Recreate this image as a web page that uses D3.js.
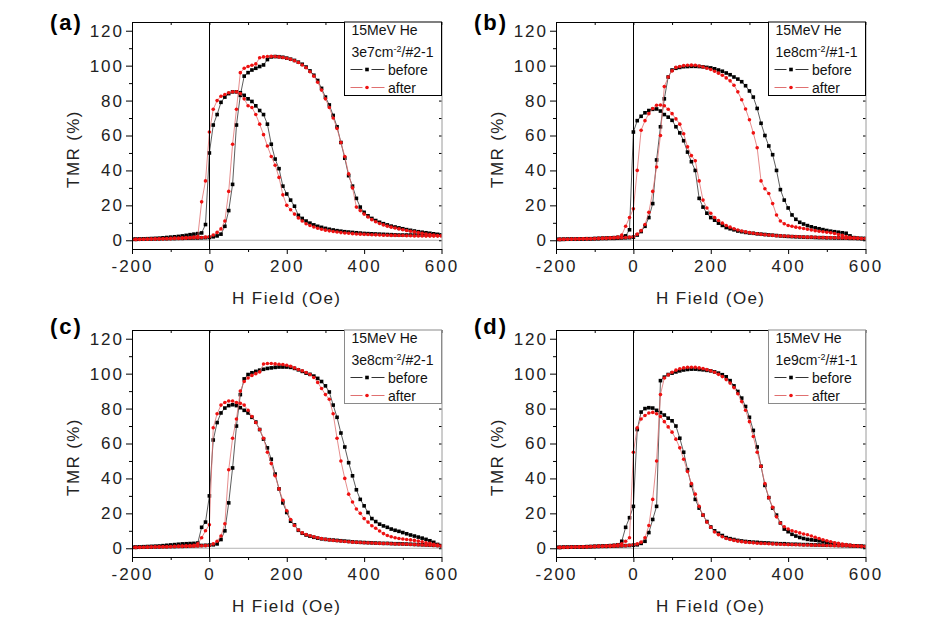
<!DOCTYPE html>
<html><head><meta charset="utf-8">
<script src="https://cdn.jsdelivr.net/npm/d3@7"></script>
<style>
html,body{margin:0;padding:0;background:#fff;}
svg{display:block;}
text{font-family:"Liberation Sans",Arial,sans-serif;}
</style></head><body>
<svg id="chart" width="932" height="640"></svg>
<script>
// ---------- data ----------
const hField = [-200,-190,-180,-170,-160,-150,-140,-130,-120,-110,-100,-90,-80,-70,-60,-50,-40,-30,-20,-10,
0,10,20,30,40,50,60,70,80,90,100,110,120,130,140,150,160,170,180,190,
200,210,220,230,240,250,260,270,280,290,300,310,320,330,340,350,360,370,380,390,
400,410,420,430,440,450,460,470,480,490,500,510,520,530,540,550,560,570,580,590,600];
const xTicks = [-200,0,200,400,600];
const xMinorTicks = [-100,100,300,500];
const yTicks = [0,20,40,60,80,100,120];
const yMinorTicks = [10,30,50,70,90,110];
const panelLabels = ["(a)","(b)","(c)","(d)"];
const ionLabel = "15MeV He";
const fluences = ["3e7","1e8","3e8","1e9"];
const samples = ["#2-1","#1-1","#2-1","#1-1"];
const seriesNames = ["before","after"];
const xTitle = "H Field (Oe)";
const yTitle = "TMR (%)";

// (a)
const aBeforeHigh = [0.5,0.5,0.6,0.6,0.7,0.7,0.8,0.8,0.9,0.9,1.0,1.0,1.1,1.1,1.2,1.2,1.3,1.3,1.4,1.5,
1.6,2.0,2.5,3.5,8,17,32,66,83,94,
96,97.5,98.5,99.5,100.4,103.5,105,105.2,105.1,104.8,
104.3,103.7,103,102,100.8,99.2,97,94.5,91.5,87,
82,77.5,71.5,65,56,47,37,31,24,19,
16,14,12.5,11.3,10.3,9.5,8.8,8.1,7.6,7.1,
6.6,6.1,5.7,5.3,4.9,4.6,4.3,4,3.7,3.4,
3.0];
const aBeforeLow = [0.6,0.7,0.7,0.8,0.9,1.0,1.1,1.2,1.4,1.6,1.8,2.0,2.2,2.5,2.8,3.2,3.5,3.8,4.2,9,
50,66,72,79,82,84,85,85,84.5,83,
81,79.5,77,74.3,72,66.5,55,46.5,41,31,
26.5,23,19.5,14.3,12.5,11,9.8,8.8,8,7.4,
6.8,6.3,5.9,5.5,5.2,4.9,4.7,4.5,4.3,4.1,
3.9,3.8,3.7,3.6,3.5,3.4,3.3,3.2,3.1,3.0,
3.0,3.0,3.0,3.0,3.0,3.0,3.0,3.0,3.0,3.0,
3.0];
const aAfterHigh = [0.4,0.5,0.5,0.6,0.6,0.7,0.7,0.8,0.8,0.9,0.9,1.0,1.0,1.1,1.2,1.3,1.4,1.5,1.6,1.8,
2.0,3.0,4.5,6.5,11,28,55,75,96,98.5,
99.5,100.2,101,104.5,105,105.2,105.3,105.2,105,104.7,
104.2,103.6,102.8,101.8,100.4,98.8,96.5,94,90.5,86,
81,76,70,64,56,48,38,30,19,17,
15,13.3,11.8,10.6,9.6,8.8,8.1,7.5,7,6.5,
6,5.6,5.2,4.8,4.4,4,3.6,3.3,3,2.7,
2.5];
const aAfterLow = [0.5,0.5,0.6,0.6,0.7,0.7,0.8,0.8,0.9,1.0,1.1,1.2,1.3,1.4,1.5,1.6,1.8,2.2,22,34,
62,75,80,82.5,83.5,84.5,85,85,84,81,
77,76,72,66.5,60.5,54,48,43,36,26,
20,17.5,15,12.8,11,9.5,8.5,7.6,6.9,6.3,
5.8,5.4,5,4.7,4.4,4.2,4,3.8,3.6,3.5,
3.4,3.3,3.2,3.1,3.0,2.9,2.9,2.8,2.8,2.7,
2.7,2.6,2.6,2.5,2.5,2.5,2.4,2.4,2.4,2.4,
2.5];
// (b)
const bBeforeHigh = [0.5,0.5,0.5,0.6,0.6,0.6,0.7,0.7,0.8,0.8,0.9,0.9,1.0,1.0,1.1,1.1,1.2,1.3,1.4,1.5,
1.8,3,5,8,13,21,46,65,81,93.5,
97.5,98.5,99,99.4,99.5,99.6,99.6,99.5,99.3,99,
98.7,98.2,97.5,96.8,95.8,94.8,93.5,92.3,90.8,88.5,
85.5,82,75.5,67,60,54,49,40,29,23,
18.5,14.5,12,10.3,9.3,8.4,7.7,7.1,6.6,6.1,
5.6,5.2,4.9,4.6,4.3,4,2.5,1.5,1.2,1,
1];
const bBeforeLow = [0.5,0.5,0.6,0.6,0.7,0.7,0.8,0.8,0.9,0.9,1.0,1.1,1.2,1.3,1.4,1.5,1.7,2.0,2.5,6,
62,68.5,71,73,74.3,75,75.2,74,72,70.5,
68.7,65,61.5,57,50.5,45,40,24,19,15.5,
13,11.5,9.8,8.5,7.3,6.6,6,5.3,4.9,4.5,
4.2,4,3.7,3.5,3.3,3.1,2.9,2.7,2.5,2.3,
2.2,2.1,2,1.9,1.8,1.7,1.7,1.6,1.5,1.5,
1.4,1.4,1.3,1.3,1.2,1.2,1.1,1.1,1,1,
1];
const bAfterHigh = [0.5,0.5,0.6,0.6,0.6,0.7,0.7,0.8,0.8,0.9,0.9,1.0,1.0,1.1,1.2,1.3,1.4,1.5,1.6,1.8,
2,3.5,5.5,9,16,28,42,60,88,93.5,
97,99,99.5,100,100.2,100.3,100.2,99.8,99.2,98.5,
97.8,96.8,95.7,94.5,93,91.3,88.8,85,80.5,75.2,
69,61.5,53,34,29.5,26.8,21,14.5,11,9.5,
8.5,8,7.5,7.1,6.7,6.3,5.9,5.5,5.2,4.9,
4.6,4.3,3.9,3.3,2.8,2.2,1.7,1.4,1.2,1,
1];
const bAfterLow = [0.5,0.5,0.6,0.6,0.7,0.7,0.8,0.8,0.9,0.9,1.0,1.1,1.2,1.3,1.4,1.6,1.8,3,8,13,
18,40,63,68.5,72.5,75.5,77.3,77.5,77,75,
72.5,69.5,66.5,61,53.5,48.5,45.5,34,23,18.5,
15.5,13,11.3,9.8,8.5,7.5,6.6,5.9,5.3,4.8,
4.4,4,3.7,3.4,3.2,3,2.8,2.6,2.5,2.4,
2.3,2.2,2.1,2,1.9,1.8,1.8,1.7,1.6,1.6,
1.5,1.5,1.4,1.4,1.3,1.2,1.2,1.1,1.1,1,
1];
// (c)
const cBeforeHigh = [0.5,0.5,0.6,0.6,0.7,0.7,0.8,0.8,0.9,0.9,1.0,1.0,1.1,1.1,1.2,1.3,1.4,1.5,1.6,1.7,
1.8,2,2.5,5,10,26,46,70,88,97,
99.5,100.5,101.3,102,102.5,103,103.3,103.6,103.8,103.8,
103.8,103.6,103,102.2,101.3,100.3,99.6,98.6,97.3,95.5,
93,89.5,82,75,66,58,49,41.5,33.5,28,
24.3,20.5,17,15.3,13.8,12.8,12,11,10.3,9.7,
9,8.3,7.6,7,6.4,5.8,5.1,4.3,3.4,2.2,
1.5];
const cBeforeLow = [0.6,0.7,0.8,0.9,1.0,1.1,1.2,1.3,1.5,1.7,1.9,2.1,2.3,2.5,2.6,2.7,2.8,3.0,12,15,
30,62,72,77.5,80.3,81.7,82.2,81.7,80.5,79,
77.5,75,72.3,68,62.5,57.5,51,42.5,34,26,
20.5,15.5,13.4,10.3,8.6,7.6,6.9,6.3,5.8,5.4,
5.1,4.9,4.7,4.5,4.3,4.1,3.9,3.7,3.5,3.4,
3.3,3.2,3.1,3,2.9,2.8,2.8,2.7,2.6,2.6,
2.5,2.4,2.3,2.2,2.1,2,1.9,1.8,1.7,1.6,
1.5];
const cAfterHigh = [0.4,0.5,0.5,0.6,0.6,0.7,0.7,0.8,0.8,0.9,0.9,1.0,1.0,1.1,1.1,1.2,1.2,1.3,1.4,1.5,
1.6,2.5,4,7,14,45,63,74,90,95.5,
97.5,99,100,101,105.5,105.8,105.8,105.6,105.4,105.2,
104.8,104.2,103.3,102.4,101.6,100.7,99.5,97.8,95,91.5,
88,85.3,77,63,50,40,31,26.5,22.5,20,
17,15,12.9,11.5,9.9,8.4,7.3,6.6,6,5.6,
5.3,5,4.8,4.5,4.1,3.7,3.2,2.8,2.3,1.8,
1.3];
const cAfterLow = [0.5,0.5,0.6,0.6,0.7,0.7,0.8,0.8,0.9,0.9,1.0,1.1,1.2,1.3,1.4,1.5,1.7,2.5,6,10,
13.5,69,77,82,83.5,84.3,84.3,83.5,83,82,
79,75.5,72,68,63,55,48.5,41.5,34,27.5,
21.5,16.5,13,10.5,8.8,7.8,7.1,6.5,6,5.5,
5.1,4.8,4.5,4.3,4.1,3.9,3.7,3.5,3.4,3.3,
3.2,3.1,3,2.9,2.8,2.7,2.7,2.6,2.5,2.4,
2.4,2.3,2.2,2.1,2,1.9,1.8,1.7,1.6,1.5,
1.3];
// (d)
const dBeforeHigh = [0.5,0.5,0.6,0.6,0.7,0.7,0.8,0.8,0.9,0.9,1.0,1.0,1.1,1.1,1.2,1.2,1.3,1.4,1.5,1.6,
1.8,2,2.8,4,9,16.5,24,96,98,99.5,
100.3,101,101.6,102.1,102.4,102.6,102.6,102.4,102.2,101.9,
101.6,101,100.3,99.4,98.2,96,93,89.8,86,81.2,
75,67.5,58,47,36,29,23,19,14.5,11,
9.5,8,7,6.2,5.6,5.1,4.8,4.6,4.3,3.9,
3.5,3.1,2.7,2.3,2,1.8,1.6,1.4,1.2,1.1,
1];
const dBeforeLow = [0.5,0.5,0.6,0.6,0.7,0.7,0.8,0.8,0.9,1.0,1.1,1.2,1.3,1.4,1.5,1.7,2.0,4,12,17.5,
24,68,78,80,80.5,80.3,79,77.7,76.3,74.5,
73,70,63,55,45,36,28,23,19,15.3,
12.2,10,8.6,7.3,6.1,5.5,5,4.5,4.2,3.9,
3.7,3.5,3.4,3.2,3.1,3,2.8,2.7,2.6,2.6,
2.4,2.3,2.3,2.2,2.1,2.1,2,1.9,1.9,1.8,
1.8,1.7,1.7,1.6,1.5,1.5,1.4,1.4,1.3,1.2,
1];
const dAfterHigh = [0.4,0.5,0.5,0.6,0.6,0.7,0.7,0.8,0.8,0.9,0.9,1.0,1.0,1.1,1.1,1.2,1.3,1.4,1.5,1.7,
2,2.5,3.5,6,13,28,50,88,97.5,99.3,
100.8,102,102.8,103.3,103.6,103.7,103.6,103.3,102.9,102.3,
101.6,100.8,99.6,98.3,96.6,94.6,92,88.5,84,79,
72.5,64,55,47,37,29,23.5,18,14.5,12.3,
11,10,9.5,8.8,8.2,7.7,7,6.3,5.6,4.9,
4.3,3.7,3.2,2.8,2.4,2.1,1.8,1.5,1.3,1.1,
1];
const dAfterLow = [0.5,0.5,0.6,0.6,0.7,0.7,0.8,0.8,0.9,1.0,1.1,1.2,1.3,1.4,1.5,1.7,2.0,2.5,4,6,
55,69,74,76,77.5,77.8,77,75.5,72.5,69.5,
66.5,62.5,57.5,51,44,37,31,24,19,15,
12,9.3,7.8,6.6,5.6,5,4.5,4.1,3.8,3.5,
3.3,3.1,2.9,2.8,2.7,2.6,2.5,2.4,2.3,2.2,
2.1,2.1,2,2,1.9,1.9,1.8,1.8,1.7,1.7,
1.6,1.6,1.5,1.5,1.4,1.4,1.3,1.3,1.2,1.1,
1];

const panelData = [
  {before:[aBeforeHigh,aBeforeLow], after:[aAfterHigh,aAfterLow]},
  {before:[bBeforeHigh,bBeforeLow], after:[bAfterHigh,bAfterLow]},
  {before:[cBeforeHigh,cBeforeLow], after:[cAfterHigh,cAfterLow]},
  {before:[dBeforeHigh,dBeforeLow], after:[dAfterHigh,dAfterLow]}
];

// ---------- layout / style ----------
const PW = 309.5, PH = 227;
const layout = [
  {ox:132, oy:22, labelY:1.5, legendStroke:"#000"},
  {ox:556, oy:22, labelY:1.5, legendStroke:"#000"},
  {ox:132, oy:330, labelY:-2.2, legendStroke:"#8a8a8a"},
  {ox:556, oy:330, labelY:-2.2, legendStroke:"#8a8a8a"}
];
const seriesStyle = {
  before:{fill:"#000", line:"#333"},
  after:{fill:"#ee1111", line:"#e07070"}
};

const svg = d3.select("#chart");
const x = d3.scaleLinear().domain([-200,600]).range([0,PW]);
const y = d3.scaleLinear().domain([-5,125]).range([PH,0]);
const lineGen = d3.line().x(d=>x(d[0])).y(d=>y(d[1]));
const plainNum = d => String(d);

function loopPoints(high, low){
  const up = hField.map((h,i)=>[h,high[i]]);
  const down = hField.map((h,i)=>[h,low[i]]).reverse();
  return up.concat(down);
}

function drawMarker(sel, name, cx, cy){
  if(name==="before"){
    sel.append("rect").attr("x",cx-1.8).attr("y",cy-1.8).attr("width",3.6).attr("height",3.6)
      .attr("fill",seriesStyle.before.fill);
  } else {
    sel.append("circle").attr("cx",cx).attr("cy",cy).attr("r",1.8)
      .attr("fill",seriesStyle.after.fill);
  }
}

const tickFont = "17px";
panelData.forEach((pd,pi)=>{
  const L = layout[pi];
  const g = svg.append("g").attr("transform",`translate(${L.ox},${L.oy})`);

  // zero line
  g.append("line").attr("x1",0).attr("x2",PW).attr("y1",y(0)).attr("y2",y(0))
    .attr("stroke","#b4b4b4").attr("stroke-width",1);

  // data
  g.append("clipPath").attr("id","clip"+pi).append("rect")
    .attr("x",0).attr("y",0).attr("width",PW).attr("height",PH);
  const dg = g.append("g").attr("clip-path",`url(#clip${pi})`);
  seriesNames.forEach(name=>{
    const [high,low] = pd[name];
    const pts = loopPoints(high,low);
    dg.append("path").attr("d",lineGen(pts)).attr("fill","none")
      .attr("stroke",seriesStyle[name].line).attr("stroke-width",0.8);
    const mg = dg.append("g");
    pts.forEach(p=>drawMarker(mg,name,x(p[0]),y(p[1])));
  });

  // vertical H=0 line
  g.append("line").attr("x1",Math.round(x(0))+0.5).attr("x2",Math.round(x(0))+0.5)
    .attr("y1",0).attr("y2",PH).attr("stroke","#000").attr("stroke-width",1);

  // mirror axes
  const topAx = g.append("g").call(d3.axisTop(x).tickValues(xTicks.concat(xMinorTicks)).tickSize(-3).tickSizeOuter(0).tickFormat(""));
  topAx.selectAll("line,path").attr("stroke","#000");
  const rightAx = g.append("g").attr("transform",`translate(${PW},0)`)
    .call(d3.axisRight(y).tickValues(yTicks.concat(yMinorTicks)).tickSize(-2.5).tickSizeOuter(0).tickFormat(""));
  rightAx.select(".domain").attr("stroke","#9a9a9a");
  rightAx.selectAll(".tick line").attr("stroke","#000");

  // bottom axis
  g.append("g").attr("transform",`translate(0,${PH})`)
    .call(d3.axisBottom(x).tickValues(xMinorTicks).tickSize(3).tickSizeOuter(0).tickFormat(""))
    .call(s=>s.select(".domain").remove());
  const bx = g.append("g").attr("transform",`translate(0,${PH})`)
    .call(d3.axisBottom(x).tickValues(xTicks).tickSize(5).tickPadding(5.7).tickSizeOuter(0).tickFormat(plainNum));
  bx.selectAll("text").attr("font-size",tickFont).attr("letter-spacing","2px").attr("fill","#222")
    .attr("font-family","Liberation Sans, Arial, sans-serif");

  // left axis
  g.append("g")
    .call(d3.axisLeft(y).tickValues(yMinorTicks).tickSize(3).tickSizeOuter(0).tickFormat(""))
    .call(s=>s.select(".domain").remove());
  const ly = g.append("g")
    .call(d3.axisLeft(y).tickValues(yTicks).tickSize(6).tickPadding(2).tickSizeOuter(0).tickFormat(plainNum));
  ly.selectAll("text").attr("font-size",tickFont).attr("letter-spacing","2px").attr("fill","#222")
    .attr("font-family","Liberation Sans, Arial, sans-serif");

  // axis titles
  g.append("text").attr("x",PW/2).attr("y",282).attr("text-anchor","middle")
    .attr("font-size","17px").attr("letter-spacing","1.4px").attr("fill","#222").text(xTitle);
  g.append("text").attr("transform","translate(-53.5,127) rotate(-90)").attr("text-anchor","middle")
    .attr("font-size","17px").attr("letter-spacing","1.4px").attr("fill","#222").text(yTitle);

  // panel label
  g.append("text").attr("x",-82).attr("y",L.labelY+6.5).attr("font-size","22px").attr("font-weight","bold")
    .attr("letter-spacing","2px").attr("fill","#000").text(panelLabels[pi]);

  // legend
  const lg = g.append("g").attr("transform","translate(212.5,0)");
  lg.append("rect").attr("x",0).attr("y",0).attr("width",PW-212.5).attr("height",73.5)
    .attr("fill","#fff").attr("stroke",L.legendStroke).attr("stroke-width",1);
  lg.append("text").attr("x",7).attr("y",13).attr("font-size","14px").attr("fill","#111").text(ionLabel);
  const t2 = lg.append("text").attr("x",7).attr("y",35).attr("font-size","14px").attr("fill","#111");
  t2.append("tspan").text(fluences[pi]+"cm");
  t2.append("tspan").attr("dy",-5.5).attr("font-size","9px").text("-2");
  t2.append("tspan").attr("dy",5.5).text("/"+samples[pi]);
  seriesNames.forEach((name,k)=>{
    const cy = 47.5 + k*18;
    lg.append("line").attr("x1",6).attr("x2",18).attr("y1",cy).attr("y2",cy)
      .attr("stroke",seriesStyle[name].line).attr("stroke-width",1);
    lg.append("line").attr("x1",27).attr("x2",40).attr("y1",cy).attr("y2",cy)
      .attr("stroke",seriesStyle[name].line).attr("stroke-width",1);
    drawMarker(lg,name,22.5,cy);
    lg.append("text").attr("x",43.5).attr("y",cy+5).attr("font-size","14px").attr("fill","#111").text(name);
  });
});
</script>
</body></html>
